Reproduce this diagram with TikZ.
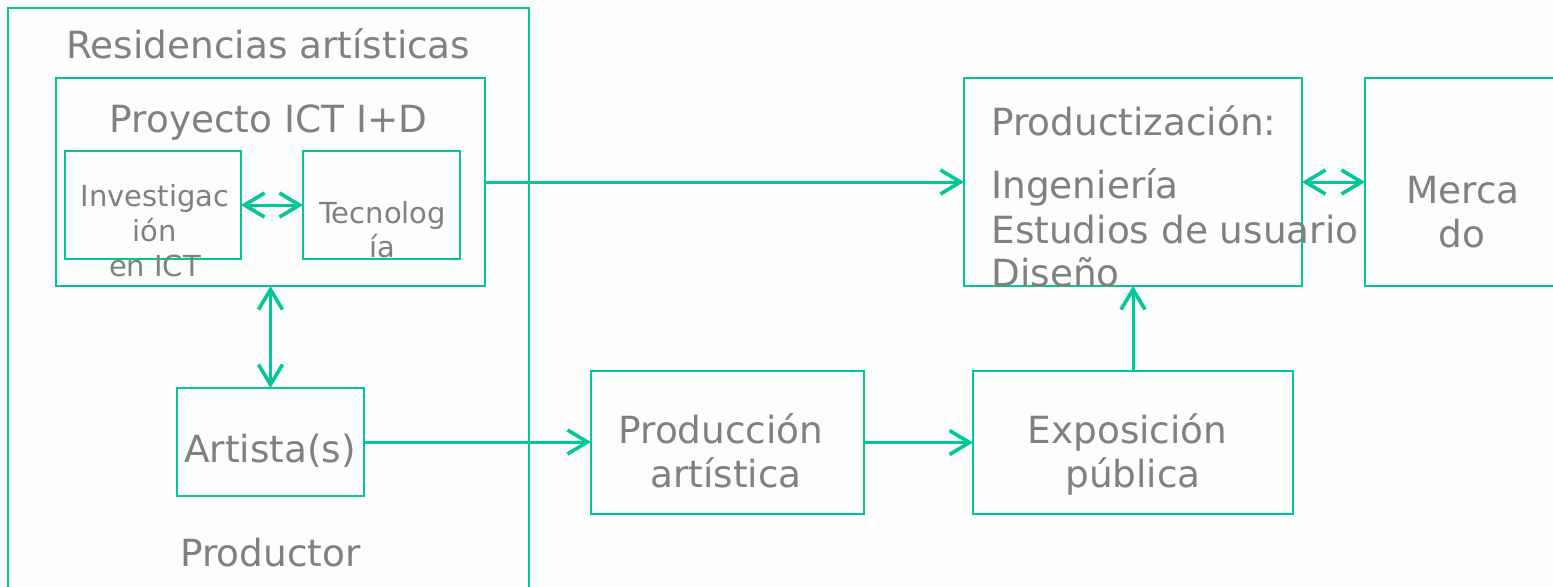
\documentclass[tikz,border=0pt]{standalone}
\usepackage{fontspec}
\setmainfont{DejaVu Sans}
\usetikzlibrary{arrows.meta}
\definecolor{grn}{HTML}{00C896}
\definecolor{txt}{HTML}{808080}
\definecolor{bg}{HTML}{FDFDFD}
\begin{document}
\begin{tikzpicture}[x=0.5pt,y=-0.5pt,
  box/.style={draw=grn,line width=0.75pt,inner sep=0pt,outer sep=0pt,rectangle},
  big/.style={text=txt,font=\fontsize{18.7}{22}\selectfont,inner sep=0pt},
  small/.style={text=txt,font=\fontsize{14.5}{17}\selectfont,inner sep=0pt},
  conn/.style={draw=grn,line width=1.5pt,>={Straight Barb[length=10pt,width=12pt,line width=1.8pt]}}
]
\useasboundingbox (0,0) rectangle (1553,586);
\fill[bg] (0,0) rectangle (1553,586);
\clip (0,0) rectangle (1553,586);

% boxes
\node[box,minimum width=260.5pt,minimum height=306pt] (res) at (268.5,314) {};
\node[box,minimum width=214.5pt,minimum height=104pt] (proy) at (270.5,182) {};
\node[box,minimum width=88pt,minimum height=54pt] (inv) at (153,205) {};
\node[box,minimum width=78.5pt,minimum height=54pt] (tec) at (381.5,205) {};
\node[box,minimum width=93.5pt,minimum height=54pt] (art) at (270.5,442) {};
\node[box,minimum width=136.5pt,minimum height=71.5pt] (prod) at (727.5,442.5) {};
\node[box,minimum width=160pt,minimum height=71.5pt] (expo) at (1133,442.5) {};
\node[box,minimum width=169pt,minimum height=104pt] (pz) at (1133,182) {};
\node[box,minimum width=102.5pt,minimum height=104pt] (merc) at (1467.5,182) {};

% connectors
\draw[conn,<->] (inv) -- (tec);
\draw[conn,<->] (proy) -- (art);
\draw[conn,->] (proy) -- (pz);
\draw[conn,<->] (pz) -- (merc);
\draw[conn,->] (art.east) -- (art.east -| prod.west);
\draw[conn,->] (prod) -- (expo);
\draw[conn,->] (expo) -- (pz);

% texts
\node[big,anchor=base] (tRes) at (268.5,58) {Residencias artísticas};
\node[big,anchor=base] (tProy) at (268.5,132) {Proyecto ICT I+D};
\node[small,anchor=base] (tInv1) at (155,206) {Investigac};
\node[small,anchor=base] (tInv2) at (155,241) {ión};
\node[small,anchor=base] (tInv3) at (155,276) {en ICT};
\node[small,anchor=base] (tTec1) at (382.5,223) {Tecnolog};
\node[small,anchor=base] (tTec2) at (382.5,257) {ía};
\node[big,anchor=base] (tArt) at (270,462) {Artista(s)};
\node[big,anchor=base] (tProdr) at (270.5,566) {Productor};
\node[big,anchor=base] (tPa1) at (721,443) {Producción};
\node[big,anchor=base] (tPa2) at (726,487) {artística};
\node[big,anchor=base] (tEx1) at (1127.5,443) {Exposición};
\node[big,anchor=base] (tEx2) at (1133,487) {pública};
\node[big,anchor=base west] (tPz0) at (991,135) {Productización:};
\node[big,anchor=base west] (tPz1) at (991,198) {Ingeniería};
\node[big,anchor=base west] (tPz2) at (991,243) {Estudios de usuario};
\node[big,anchor=base west] (tPz3) at (991,286) {Diseño};
\node[big,anchor=base] (tM1) at (1463,203) {Merca};
\node[big,anchor=base] (tM2) at (1462,247) {do};
\end{tikzpicture}
\end{document}
